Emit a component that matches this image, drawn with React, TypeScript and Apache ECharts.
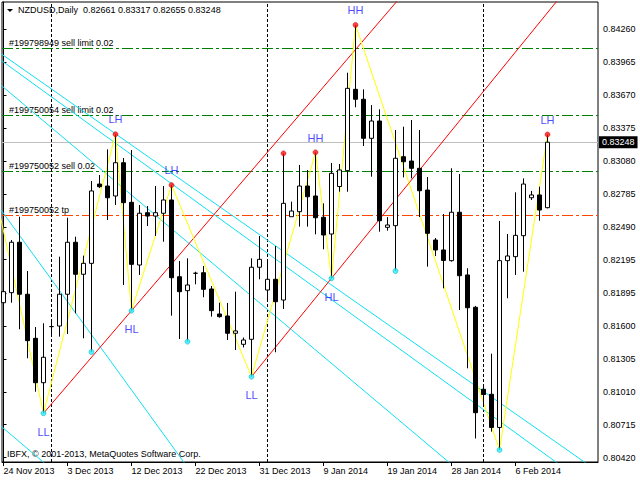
import React, { useEffect, useRef } from 'react';
import * as echarts from 'echarts';

const symbolName = 'NZDUSD';
const periodName = 'Daily';
const copyrightText = 'IBFX, © 2001-2013, MetaQuotes Software Corp.';

// Daily bars, index 0 = 24 Nov 2013 ... index 68 = 11 Feb 2014
const opens = [
  0.81809, 0.81899, 0.82351, 0.81885, 0.81490, 0.81092, 0.81595, 0.81600, 0.81885, 0.82351,
  0.82064, 0.82162, 0.82873, 0.82855, 0.82766, 0.83064, 0.82709, 0.82147, 0.82616, 0.82586,
  0.82611, 0.82730, 0.82042, 0.81917, 0.82073, 0.82078, 0.81932, 0.81708, 0.81690, 0.81535,
  0.81436, 0.81481, 0.82127, 0.81923, 0.82019, 0.81833, 0.82580, 0.82625, 0.82855, 0.82766,
  0.82575, 0.82425, 0.82851, 0.82993, 0.83722, 0.83633, 0.83283, 0.83438, 0.82485, 0.82500,
  0.83118, 0.83079, 0.83014, 0.82819, 0.82371, 0.82282, 0.82186, 0.82620, 0.82058, 0.81768,
  0.81033, 0.80988, 0.80691, 0.82186, 0.82222, 0.82410, 0.82750, 0.82775, 0.82661,
];
const highs = [
  0.81959, 0.82371, 0.82580, 0.82093, 0.81591, 0.81625, 0.81639, 0.82222, 0.82571, 0.82401,
  0.82231, 0.82900, 0.82954, 0.83184, 0.83319, 0.83106, 0.83178, 0.82685, 0.82676, 0.82855,
  0.82855, 0.82864, 0.82183, 0.82207, 0.82087, 0.82138, 0.81959, 0.81809, 0.81807, 0.81908,
  0.81497, 0.82207, 0.82407, 0.82192, 0.82317, 0.83148, 0.82715, 0.83044, 0.82999, 0.83157,
  0.82700, 0.83062, 0.83053, 0.83871, 0.84299, 0.83722, 0.83581, 0.83543, 0.82577, 0.83357,
  0.83387, 0.83447, 0.83357, 0.82936, 0.82389, 0.82604, 0.83014, 0.82963, 0.82118, 0.81780,
  0.81063, 0.81352, 0.82542, 0.82425, 0.82799, 0.82924, 0.82811, 0.82849, 0.83317,
];
const lows = [
  0.81744, 0.81809, 0.81571, 0.81311, 0.81011, 0.80818, 0.81502, 0.81505, 0.81529, 0.81714,
  0.81490, 0.81367, 0.82837, 0.82551, 0.82685, 0.81968, 0.81738, 0.82058, 0.82497, 0.82407,
  0.82356, 0.81693, 0.81484, 0.81460, 0.81974, 0.81858, 0.81684, 0.81675, 0.81475, 0.81385,
  0.81408, 0.81146, 0.82019, 0.81833, 0.81365, 0.81753, 0.82580, 0.82491, 0.82491, 0.82422,
  0.82288, 0.82028, 0.82804, 0.82804, 0.83561, 0.83214, 0.82939, 0.82446, 0.82455, 0.82093,
  0.82933, 0.82924, 0.82577, 0.82132, 0.82228, 0.81938, 0.82177, 0.81744, 0.81221, 0.80592,
  0.80883, 0.80653, 0.80489, 0.81849, 0.82058, 0.82087, 0.82730, 0.82544, 0.82655,
];
const closes = [
  0.81908, 0.82351, 0.81885, 0.81469, 0.81092, 0.81320, 0.81595, 0.81885, 0.82351, 0.82064,
  0.82162, 0.82811, 0.82849, 0.82750, 0.83064, 0.82706, 0.82153, 0.82611, 0.82586, 0.82616,
  0.82730, 0.82033, 0.81908, 0.81968, 0.82073, 0.81929, 0.81738, 0.81684, 0.81535, 0.81556,
  0.81475, 0.82127, 0.82198, 0.82019, 0.81818, 0.82700, 0.82631, 0.82855, 0.82759, 0.82571,
  0.82416, 0.82969, 0.82999, 0.83731, 0.83633, 0.83283, 0.83438, 0.82544, 0.82506, 0.83104,
  0.83073, 0.83014, 0.82813, 0.82431, 0.82282, 0.82188, 0.82620, 0.82051, 0.81764, 0.80823,
  0.80986, 0.80691, 0.82186, 0.82228, 0.82413, 0.82873, 0.82775, 0.82640, 0.83248,
];

const dateTickBars = [0, 8, 16, 24, 32, 40, 48, 56, 64];
const dateTickLabels = [
  '24 Nov 2013', '3 Dec 2013', '12 Dec 2013', '22 Dec 2013', '31 Dec 2013',
  '9 Jan 2014', '19 Jan 2014', '28 Jan 2014', '6 Feb 2014',
];
const separatorBars = [6, 33, 60];

const priceTicks = [
  0.8426, 0.83965, 0.8367, 0.83375, 0.8308, 0.82785, 0.8249,
  0.82195, 0.81895, 0.816, 0.81305, 0.8101, 0.80715, 0.8042,
];
const priceMin = 0.80381;
const priceMax = 0.84505;
const barMin = -0.1875;
const barMax = 74.3125;

// Order levels: sell limit, sell limit, sell, take profit
const levelPrices = [0.84088, 0.83488, 0.82985, 0.82591];
const levelLabels = ['#199798949 sell limit 0.02', '#199750054 sell limit 0.02', '#199750052 sell 0.02', '#199750052 tp'];
const levelColors = ['#008000', '#008000', '#008000', '#ff4500'];

// ZigZag vertices [bar, price]
const zigzagBars = [-2, 5, 14, 16, 21, 31, 39, 41, 44, 62, 68];
const zigzagPrices = [0.83106, 0.80818, 0.83319, 0.81738, 0.82864, 0.81146, 0.83157, 0.82028, 0.84299, 0.80489, 0.83317];

const swingHighBars = [14, 21, 35, 39, 44, 68];
const swingHighTags = ['LH', 'LH', '', 'HH', 'HH', 'LH'];
const swingLowBars = [5, 11, 16, 23, 31, 41, 49, 62];
const swingLowTags = ['LL', '', 'HL', '', 'LL', 'HL', '', ''];

// Trend lines: [[bar, price], [bar, price]]
const redLines = [
  [[5, 0.80818], [75, 0.8667]],
  [[31, 0.81146], [75, 0.85027]],
];
const cyanLines = [
  [[-1, 0.84076], [75, 0.80261]],
  [[-1, 0.84018], [75, 0.80072]],
  [[-1, 0.83801], [75, 0.79212]],
  [[-1, 0.80744], [75, 0.76114]],
  [[-1, 0.82709], [75, 0.75188]],
];

const FONT = '"Liberation Sans", Arial, sans-serif';

export default function App() {
  const ref = useRef<HTMLDivElement>(null);

  useEffect(() => {
    if (!ref.current) return;
    const chart = echarts.init(ref.current, undefined, { renderer: 'svg' });
    const last = closes.length - 1;
    const candleData = opens.map((o, i) => [i, o, closes[i], lows[i], highs[i]]);
    const titleText = `${symbolName},${periodName}  ${opens[last].toFixed(5)} ${highs[last].toFixed(5)} ${lows[last].toFixed(5)} ${closes[last].toFixed(5)}`;

    const levelMarkLine = (i: number) => ({
      z: 1,
      silent: true,
      precision: 5,
      symbol: ['none', 'none'],
      animation: false,
      lineStyle: { color: levelColors[i], type: [11, 3, 3, 3], width: 1, opacity: 1 },
      label: {
        show: true,
        position: 'insideStartTop',
        formatter: levelLabels[i],
        color: '#000',
        fontSize: 9,
        lineHeight: 9,
        fontFamily: FONT,
        distance: [7, 1],
      },
      emphasis: { disabled: true },
      data: [{ yAxis: levelPrices[i] }],
    });

    const bidMarkLine = {
      z: 1,
      silent: true,
      precision: 5,
      symbol: ['none', 'none'],
      animation: false,
      lineStyle: { color: '#c0c0c0', type: 'solid', width: 1, opacity: 1 },
      label: {
        show: true,
        position: 'end',
        formatter: closes[last].toFixed(5),
        color: '#fff',
        backgroundColor: '#000',
        padding: [2, 3, 1, 3],
        fontSize: 9,
        fontFamily: FONT,
        distance: 1,
      },
      emphasis: { disabled: true },
      data: [{ yAxis: closes[last] }],
    };

    const separatorMarkLine = {
      z: 1,
      silent: true,
      precision: 5,
      symbol: ['none', 'none'],
      animation: false,
      lineStyle: { color: '#000', type: [3, 2], width: 1, opacity: 1 },
      label: { show: false },
      emphasis: { disabled: true },
      data: separatorBars.map((b) => ({ xAxis: b })),
    };

    const lineSeries = (pts: number[][], color: string) => ({
      type: 'line',
      data: pts,
      symbol: 'none',
      clip: true,
      silent: true,
      z: 1,
      lineStyle: { color, width: 1 },
    });

    const dotSeries = (bars: number[], tags: string[], src: number[], pos: string, dist: number, color: string, border: string) => ({
      type: 'scatter',
      data: bars.map((b, i) => ({
        value: [b, src[b]],
        label: { show: tags[i] !== '', formatter: tags[i] },
      })),
      symbol: 'circle',
      symbolSize: 5,
      silent: true,
      z: 5,
      itemStyle: { color, borderColor: border, borderWidth: 0.6 },
      label: { position: pos, distance: dist, color: '#1a1aff', fontSize: 11, lineHeight: 10, fontFamily: FONT },
    });

    const cyanSeries: any[] = cyanLines.map((l) => lineSeries(l, '#10e0f0'));
    cyanSeries[0].markLine = levelMarkLine(0);
    cyanSeries[1].markLine = levelMarkLine(1);
    cyanSeries[2].markLine = levelMarkLine(2);
    cyanSeries[3].markLine = levelMarkLine(3);
    cyanSeries[4].markLine = bidMarkLine;

    chart.setOption({
      animation: false,
      backgroundColor: '#fff',
      textStyle: { fontFamily: FONT },
      title: {
        text: titleText,
        left: 18,
        top: 5,
        padding: 0,
        textStyle: { fontSize: 9, fontWeight: 'normal', color: '#000', fontFamily: FONT },
      },
      graphic: [
        { type: 'polygon', shape: { points: [[7, 9], [13, 9], [10, 12]] }, style: { fill: '#000' } },
        {
          type: 'text',
          left: 7,
          top: 449,
          style: { text: copyrightText, fontSize: 9, fontFamily: FONT, fill: '#000' },
        },
      ],
      grid: {
        left: 2,
        top: 2,
        right: 42,
        bottom: 18,
        show: true,
        borderColor: '#000',
        borderWidth: 1,
      },
      xAxis: {
        type: 'value',
        min: barMin,
        max: barMax,
        axisLine: { show: true, lineStyle: { color: '#000' } },
        axisTick: { show: true, customValues: dateTickBars, length: 4, lineStyle: { color: '#000' } },
        axisLabel: {
          show: true,
          customValues: dateTickBars,
          formatter: (v: number) => dateTickLabels[dateTickBars.indexOf(Math.round(v))] || '',
          align: 'left',
          margin: 4,
          fontSize: 9,
          color: '#000',
          fontFamily: FONT,
        },
        splitLine: { show: false },
      },
      yAxis: {
        type: 'value',
        position: 'right',
        min: priceMin,
        max: priceMax,
        scale: true,
        axisLine: { show: true, lineStyle: { color: '#000' } },
        axisTick: { show: true, customValues: priceTicks, length: 3, lineStyle: { color: '#000' } },
        axisLabel: {
          show: true,
          customValues: priceTicks,
          formatter: (v: number) => v.toFixed(5),
          align: 'left',
          margin: 5,
          fontSize: 9,
          color: '#000',
          fontFamily: FONT,
        },
        splitLine: { show: false },
      },
      series: [
        ...cyanSeries,
        ...redLines.map((l) => lineSeries(l, '#ff0000')),
        {
          ...lineSeries(zigzagBars.map((b, i) => [b, zigzagPrices[i]]), '#ffff00'),
          markLine: separatorMarkLine,
        },
        {
          type: 'candlestick',
          data: candleData,
          encode: { x: 0, y: [1, 2, 3, 4] },
          barWidth: 4,
          clip: true,
          silent: true,
          z: 3,
          itemStyle: {
            color: '#fff',
            color0: '#000',
            borderColor: '#000',
            borderColor0: '#000',
            borderWidth: 1,
          },
        },
        dotSeries(swingHighBars, swingHighTags, highs, 'top', 7, '#ff1010', '#c00000'),
        dotSeries(swingLowBars, swingLowTags, lows, 'bottom', 10.5, '#20f0ff', '#00a0b0'),
      ],
    });
    return () => chart.dispose();
  }, []);

  return <div ref={ref} style={{ position: 'fixed', left: 0, top: 0, width: 640, height: 480 }} />;
}
